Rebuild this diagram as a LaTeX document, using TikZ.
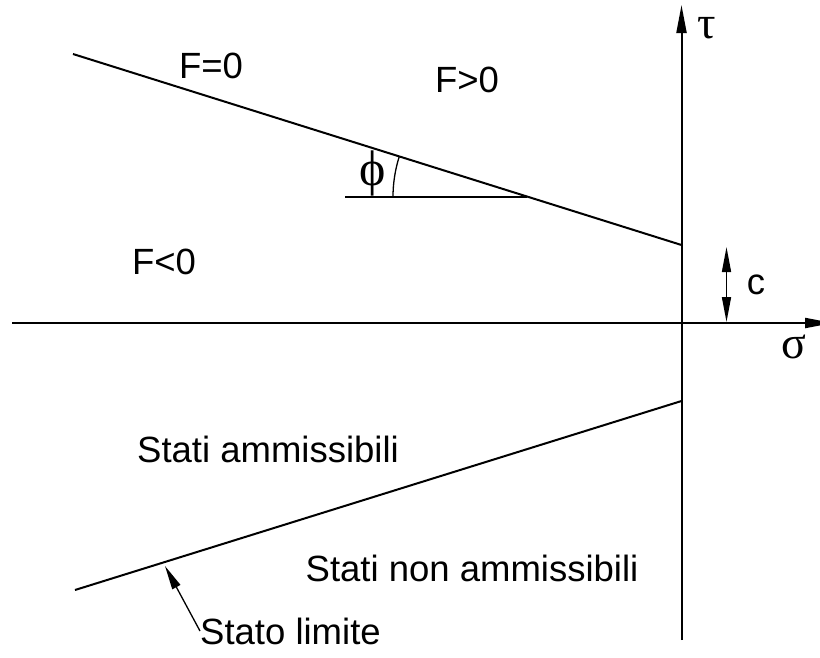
\documentclass[tikz,border=0pt]{standalone}
\usepackage{fontspec}
\setmainfont{Liberation Sans}
\newfontfamily\grk{Liberation Serif}
\usetikzlibrary{arrows.meta}
\tikzset{
  lbl/.style={font=\fontsize{36.5}{40}\selectfont, inner sep=0pt},
  glbl/.style={font=\grk\fontsize{46}{50}\selectfont, inner sep=0pt},
  axis/.style={line width=2pt, -{Triangle[length=28pt,width=10pt]}},
  env/.style={line width=2pt},
  thin/.style={line width=1.3pt},
  tip/.style={line width=1.3pt, -{Triangle[length=24pt,width=9pt]}},
  dbl/.style={line width=1.6pt, {Triangle[length=25pt,width=9pt]}-{Triangle[length=25pt,width=9pt]}}
}
\begin{document}
\begin{tikzpicture}[x=1pt,y=-1pt]
\useasboundingbox (0,0) rectangle (820,657);
% axes
\coordinate (xl) at (12,323);
\coordinate (xr) at (833,323);
\coordinate (yb) at (681.5,640);
\coordinate (yt) at (681.5,5);
\draw[axis] (xl) -- (xr);
\draw[axis] (yb) -- (yt);
% envelope lines
\coordinate (ua) at (73,54);
\coordinate (ub) at (681.5,245);
\coordinate (la) at (75,590);
\coordinate (lb) at (681.5,401);
\draw[env] (ua) -- (ub);
\draw[env] (la) -- (lb);
% angle
\coordinate (hl) at (345,197);
\coordinate (hv) at (527,197);
\draw[thin] (hl) -- (hv);
\draw[thin] (hv) ++(180:134) arc[start angle=180, end angle=197.4, radius=134];
\node[glbl, font=\grk\fontsize{50}{54}\selectfont] (phi) at (373,173) {ϕ};
% c arrow
\coordinate (ct) at (726.5,247);
\coordinate (cb) at (726.5,322);
\draw[dbl] (cb) -- (ct);
\node[lbl] (c) at (756,285) {c};
% labels
\node[glbl] (tau) at (707,28) {τ};
\node[glbl] (sig) at (794,347) {σ};
\node[lbl] (f0) at (211,66) {F=0};
\node[lbl] (fp) at (467,80) {F>0};
\node[lbl] (fm) at (164,262) {F<0};
\node[lbl] (sa) at (268,449) {Stati ammissibili};
\node[lbl] (sn) at (472,568) {Stati non ammissibili};
\node[lbl, anchor=west] (sl) at (200,631) {Stato limite};
\coordinate (sltip) at (165,566);
\draw[tip] (sl.west) -- (sltip);
\end{tikzpicture}
\end{document}
